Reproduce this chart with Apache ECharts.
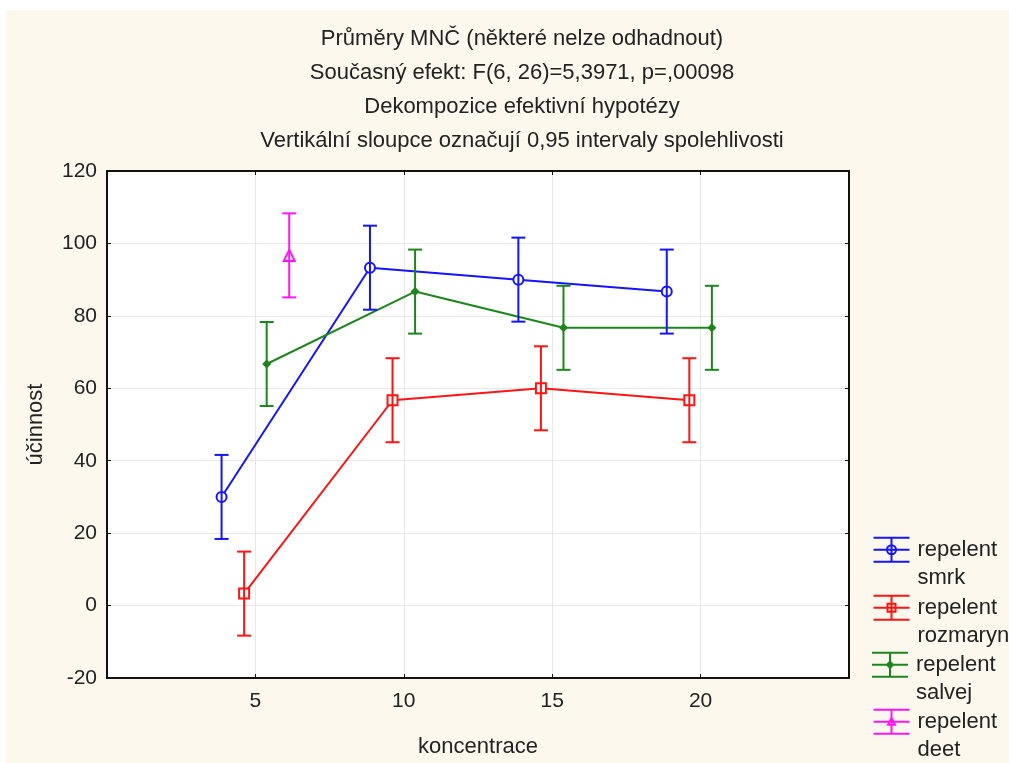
<!DOCTYPE html>
<html>
<head>
<meta charset="utf-8">
<script src="https://cdn.jsdelivr.net/npm/echarts@6/dist/echarts.min.js"></script>
<style>
    html, body { margin: 0; padding: 0; background: #fff; }
    #main { position: absolute; left: 6px; top: 10px; width: 1003px; height: 753px; background: #fcf8ee; }
</style>
</head>
<body>
<div id="main"></div>
<script>
// koncentrace (kategorie na ose x)
var koncentrace = [5, 10, 15, 20];
// průměry účinnosti
var smrk = [30, 93.3, 90, 86.7];
var rozmaryn = [3.3, 56.7, 60, 56.7];
var salvej = [66.7, 86.7, 76.7, 76.7];
var deet = [96.7];
// polovina 0,95 intervalu spolehlivosti
var ciSmrk = [11.6, 11.6, 11.6, 11.6];
var ciRozmaryn = [11.6, 11.6, 11.6, 11.6];
var ciSalvej = [11.6, 11.6, 11.6, 11.6];
var ciDeet = [11.6];
var yTicks = [-20, 0, 20, 40, 60, 80, 100, 120];

var titulky = [
    'Průměry MNČ (některé nelze odhadnout)',
    'Současný efekt: F(6, 26)=5,3971, p=,00098',
    'Dekompozice efektivní hypotézy',
    'Vertikální sloupce označují 0,95 intervaly spolehlivosti'
];

var font = '"Liberation Sans", Arial, sans-serif';
var textColor = '#222';

var skupiny = [
    { name: 'repelent smrk', mean: smrk, ci: ciSmrk, color: '#1414ff', symbol: 'emptyCircle', size: 10, bw: 2, offset: -1.14,
      icon: 'M22.5 12 A4.5 4.5 0 1 1 13.5 12 A4.5 4.5 0 1 1 22.5 12 Z', fill: 'none' },
    { name: 'repelent rozmaryn', mean: rozmaryn, ci: ciRozmaryn, color: '#ff1414', symbol: 'emptyRect', size: 10, bw: 2, offset: -0.38,
      icon: 'M14 8 L22 8 L22 16 L14 16 Z', fill: 'none' },
    { name: 'repelent salvej', mean: salvej, ci: ciSalvej, color: '#1c861c', symbol: 'diamond', size: 9, bw: 2, offset: 0.38,
      icon: 'M18 9 L21 12 L18 15 L15 12 Z', fill: '#1c861c' },
    { name: 'repelent deet', mean: deet, ci: ciDeet, color: '#ff14ff', symbol: 'emptyTriangle', size: 11, bw: 1, offset: 1.14,
      icon: 'M18 8 L21.5 15 L14.5 15 Z', fill: 'none' }
];
var iconZaklad = 'M0 0 L36 0 M0 12 L36 12 M0 24 L36 24 M18 0 L18 24 ';

function errRender(color) {
    return function (params, api) {
        var x = api.value(0);
        var lo = api.coord([x, api.value(1)]);
        var hi = api.coord([x, api.value(2)]);
        var w = 7;
        var st = { stroke: color, lineWidth: 2 };
        return {
            type: 'group',
            children: [
                { type: 'line', shape: { x1: lo[0], y1: lo[1], x2: hi[0], y2: hi[1] }, style: st },
                { type: 'line', shape: { x1: lo[0] - w, y1: lo[1], x2: lo[0] + w, y2: lo[1] }, style: st },
                { type: 'line', shape: { x1: hi[0] - w, y1: hi[1], x2: hi[0] + w, y2: hi[1] }, style: st }
            ]
        };
    };
}

var series = [];
var legends = [];
var legendTops = [497, 555, 612, 669];
skupiny.forEach(function (s, i) {
    var bodyLine = [];
    var bodyErr = [];
    for (var k = 0; k < s.mean.length; k++) {
        var x = koncentrace[k] + s.offset;
        bodyLine.push([x, s.mean[k]]);
        bodyErr.push([x, s.mean[k] - s.ci[k], s.mean[k] + s.ci[k]]);
    }
    series.push({
        name: s.name,
        type: 'line',
        data: bodyLine,
        symbol: s.symbol,
        symbolSize: s.size,
        showAllSymbol: true,
        lineStyle: { color: s.color, width: 2 },
        itemStyle: { color: s.color, borderWidth: s.bw },
        z: 3,
        animation: false
    });
    series.push({
        name: s.name,
        type: 'custom',
        data: bodyErr,
        renderItem: errRender(s.color),
        encode: { x: 0, y: [1, 2] },
        z: 4,
        animation: false
    });
    legends.push({
        orient: 'vertical',
        left: 865,
        top: legendTops[i],
        padding: 0,
        itemWidth: 36,
        itemHeight: 24,
        itemGap: 0,
        selectedMode: false,
        data: [{
            name: s.name,
            icon: 'path://' + iconZaklad + s.icon,
            itemStyle: { color: s.fill, borderColor: s.color, borderWidth: 2 }
        }],
        // prázdný první řádek posune "repelent" na úroveň ikony
        formatter: function (n) { return ' \n' + n.replace(' ', '\n'); },
        textStyle: { fontFamily: font, fontSize: 22, color: textColor, lineHeight: 28.5, padding: [0, 0, 0, 3] }
    });
});

var chart = echarts.init(document.getElementById('main'));
var option = {
    animation: false,
    title: {
        text: titulky.join('\n'),
        left: 511,
        top: 7,
        textAlign: 'center',
        textStyle: { fontFamily: font, fontSize: 22, fontWeight: 'normal', color: textColor, lineHeight: 34 }
    },
    legend: legends,
    grid: { left: 101, right: 160, top: 161, bottom: 85, show: true, backgroundColor: '#fff', borderWidth: 0 },
    xAxis: [{
        type: 'value',
        min: 0, max: 25, interval: 5,
        name: 'koncentrace',
        nameLocation: 'middle',
        nameGap: 58,
        nameTextStyle: { fontFamily: font, fontSize: 22, color: textColor },
        axisLine: { onZero: false, lineStyle: { color: '#111', width: 2 } },
        axisTick: { inside: true, length: 4, lineStyle: { color: '#111' } },
        axisLabel: {
            margin: 13, fontFamily: font, fontSize: 21, color: textColor,
            formatter: function (v) { return koncentrace.indexOf(v) >= 0 ? String(v) : ''; }
        },
        splitLine: { show: true, lineStyle: { color: '#e8e8e8', width: 1 } }
    }, {
        type: 'value', position: 'top',
        min: 0, max: 25, interval: 5,
        axisLine: { onZero: false, lineStyle: { color: '#111', width: 2 } },
        axisTick: { inside: true, length: 4, lineStyle: { color: '#111' } },
        axisLabel: { show: false },
        splitLine: { show: false }
    }],
    yAxis: [{
        type: 'value',
        min: yTicks[0], max: yTicks[yTicks.length - 1], interval: 20,
        name: 'účinnost',
        nameLocation: 'middle',
        nameGap: 60,
        nameTextStyle: { fontFamily: font, fontSize: 22, color: textColor },
        axisLine: { show: true, onZero: false, lineStyle: { color: '#111', width: 2 } },
        axisTick: { show: true, inside: true, length: 4, lineStyle: { color: '#111' } },
        axisLabel: { margin: 10, fontFamily: font, fontSize: 21, color: textColor },
        splitLine: { show: true, lineStyle: { color: '#e8e8e8', width: 1 } }
    }, {
        type: 'value', position: 'right',
        min: yTicks[0], max: yTicks[yTicks.length - 1], interval: 20,
        axisLine: { show: true, onZero: false, lineStyle: { color: '#111', width: 2 } },
        axisTick: { show: true, inside: true, length: 4, lineStyle: { color: '#111' } },
        axisLabel: { show: false },
        splitLine: { show: false }
    }],
    series: series
};
chart.setOption(option);
</script>
</body>
</html>
